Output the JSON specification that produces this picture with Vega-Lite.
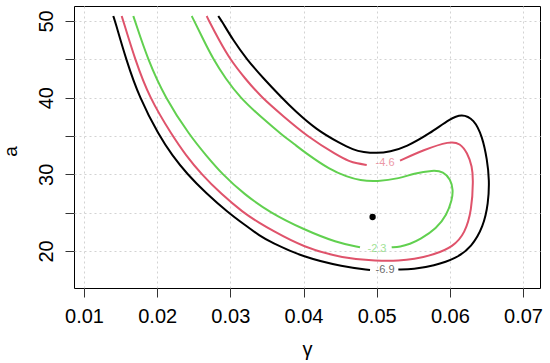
{
  "$schema": "https://vega.github.io/schema/vega-lite/v6.json",
  "width": 466,
  "height": 282,
  "autosize": {"type": "none"},
  "padding": {"left": 74, "top": 6, "right": 10, "bottom": 75},
  "background": "white",
  "config": {"view": {"stroke": "#000", "strokeWidth": 1}, "font": "Liberation Sans"},
  "datasets": {
    "contours": [
      {"lvl": "-6.9", "seg": "k1", "i": 0, "g": 0.01400, "a": 50.65},
      {"lvl": "-6.9", "seg": "k1", "i": 1, "g": 0.01424, "a": 50.00},
      {"lvl": "-6.9", "seg": "k1", "i": 2, "g": 0.01574, "a": 45.00},
      {"lvl": "-6.9", "seg": "k1", "i": 3, "g": 0.01756, "a": 40.00},
      {"lvl": "-6.9", "seg": "k1", "i": 4, "g": 0.02029, "a": 35.00},
      {"lvl": "-6.9", "seg": "k1", "i": 5, "g": 0.02203, "a": 32.52},
      {"lvl": "-6.9", "seg": "k1", "i": 6, "g": 0.02412, "a": 30.00},
      {"lvl": "-6.9", "seg": "k1", "i": 7, "g": 0.02667, "a": 27.56},
      {"lvl": "-6.9", "seg": "k1", "i": 8, "g": 0.02972, "a": 25.00},
      {"lvl": "-6.9", "seg": "k1", "i": 9, "g": 0.03200, "a": 23.39},
      {"lvl": "-6.9", "seg": "k1", "i": 10, "g": 0.03405, "a": 21.96},
      {"lvl": "-6.9", "seg": "k1", "i": 11, "g": 0.03542, "a": 21.21},
      {"lvl": "-6.9", "seg": "k1", "i": 12, "g": 0.03997, "a": 19.18},
      {"lvl": "-6.9", "seg": "k1", "i": 13, "g": 0.04544, "a": 17.95},
      {"lvl": "-6.9", "seg": "k1", "i": 14, "g": 0.04909, "a": 17.52},
      {"lvl": "-6.9", "seg": "k2", "i": 0, "g": 0.05296, "a": 17.59},
      {"lvl": "-6.9", "seg": "k2", "i": 1, "g": 0.05500, "a": 17.61},
      {"lvl": "-6.9", "seg": "k2", "i": 2, "g": 0.05774, "a": 18.04},
      {"lvl": "-6.9", "seg": "k2", "i": 3, "g": 0.06094, "a": 19.04},
      {"lvl": "-6.9", "seg": "k2", "i": 4, "g": 0.06299, "a": 20.56},
      {"lvl": "-6.9", "seg": "k2", "i": 5, "g": 0.06457, "a": 23.17},
      {"lvl": "-6.9", "seg": "k2", "i": 6, "g": 0.06526, "a": 26.22},
      {"lvl": "-6.9", "seg": "k2", "i": 7, "g": 0.06540, "a": 29.26},
      {"lvl": "-6.9", "seg": "k2", "i": 8, "g": 0.06510, "a": 31.87},
      {"lvl": "-6.9", "seg": "k2", "i": 9, "g": 0.06445, "a": 34.91},
      {"lvl": "-6.9", "seg": "k2", "i": 10, "g": 0.06330, "a": 37.20},
      {"lvl": "-6.9", "seg": "k2", "i": 11, "g": 0.06162, "a": 37.90},
      {"lvl": "-6.9", "seg": "k2", "i": 12, "g": 0.06002, "a": 37.25},
      {"lvl": "-6.9", "seg": "k2", "i": 13, "g": 0.05729, "a": 35.35},
      {"lvl": "-6.9", "seg": "k2", "i": 14, "g": 0.05400, "a": 33.55},
      {"lvl": "-6.9", "seg": "k2", "i": 15, "g": 0.05182, "a": 32.95},
      {"lvl": "-6.9", "seg": "k2", "i": 16, "g": 0.05000, "a": 32.74},
      {"lvl": "-6.9", "seg": "k2", "i": 17, "g": 0.04817, "a": 32.90},
      {"lvl": "-6.9", "seg": "k2", "i": 18, "g": 0.04680, "a": 33.20},
      {"lvl": "-6.9", "seg": "k2", "i": 19, "g": 0.04499, "a": 34.05},
      {"lvl": "-6.9", "seg": "k2", "i": 20, "g": 0.04180, "a": 35.78},
      {"lvl": "-6.9", "seg": "k2", "i": 21, "g": 0.03870, "a": 38.39},
      {"lvl": "-6.9", "seg": "k2", "i": 22, "g": 0.03702, "a": 40.00},
      {"lvl": "-6.9", "seg": "k2", "i": 23, "g": 0.03453, "a": 42.50},
      {"lvl": "-6.9", "seg": "k2", "i": 24, "g": 0.03224, "a": 45.00},
      {"lvl": "-6.9", "seg": "k2", "i": 25, "g": 0.03036, "a": 47.52},
      {"lvl": "-6.9", "seg": "k2", "i": 26, "g": 0.02882, "a": 50.00},
      {"lvl": "-6.9", "seg": "k2", "i": 27, "g": 0.02835, "a": 50.65},
      {"lvl": "-4.6", "seg": "r1", "i": 0, "g": 0.01515, "a": 50.65},
      {"lvl": "-4.6", "seg": "r1", "i": 1, "g": 0.01537, "a": 50.00},
      {"lvl": "-4.6", "seg": "r1", "i": 2, "g": 0.01697, "a": 45.00},
      {"lvl": "-4.6", "seg": "r1", "i": 3, "g": 0.01892, "a": 40.00},
      {"lvl": "-4.6", "seg": "r1", "i": 4, "g": 0.02210, "a": 35.00},
      {"lvl": "-4.6", "seg": "r1", "i": 5, "g": 0.02390, "a": 32.52},
      {"lvl": "-4.6", "seg": "r1", "i": 6, "g": 0.02605, "a": 30.00},
      {"lvl": "-4.6", "seg": "r1", "i": 7, "g": 0.02875, "a": 27.43},
      {"lvl": "-4.6", "seg": "r1", "i": 8, "g": 0.03177, "a": 25.00},
      {"lvl": "-4.6", "seg": "r1", "i": 9, "g": 0.03405, "a": 23.61},
      {"lvl": "-4.6", "seg": "r1", "i": 10, "g": 0.03560, "a": 22.75},
      {"lvl": "-4.6", "seg": "r1", "i": 11, "g": 0.03997, "a": 20.48},
      {"lvl": "-4.6", "seg": "r1", "i": 12, "g": 0.04544, "a": 19.05},
      {"lvl": "-4.6", "seg": "r1", "i": 13, "g": 0.05000, "a": 18.70},
      {"lvl": "-4.6", "seg": "r1", "i": 14, "g": 0.05319, "a": 18.73},
      {"lvl": "-4.6", "seg": "r1", "i": 15, "g": 0.05500, "a": 18.92},
      {"lvl": "-4.6", "seg": "r1", "i": 16, "g": 0.05774, "a": 19.48},
      {"lvl": "-4.6", "seg": "r1", "i": 17, "g": 0.06047, "a": 20.56},
      {"lvl": "-4.6", "seg": "r1", "i": 18, "g": 0.06207, "a": 22.31},
      {"lvl": "-4.6", "seg": "r1", "i": 19, "g": 0.06299, "a": 25.35},
      {"lvl": "-4.6", "seg": "r1", "i": 20, "g": 0.06320, "a": 29.26},
      {"lvl": "-4.6", "seg": "r1", "i": 21, "g": 0.06305, "a": 31.00},
      {"lvl": "-4.6", "seg": "r1", "i": 22, "g": 0.06240, "a": 32.80},
      {"lvl": "-4.6", "seg": "r1", "i": 23, "g": 0.06139, "a": 34.05},
      {"lvl": "-4.6", "seg": "r1", "i": 24, "g": 0.06002, "a": 34.35},
      {"lvl": "-4.6", "seg": "r1", "i": 25, "g": 0.05637, "a": 33.17},
      {"lvl": "-4.6", "seg": "r1", "i": 26, "g": 0.05319, "a": 31.78},
      {"lvl": "-4.6", "seg": "r2", "i": 0, "g": 0.04864, "a": 31.22},
      {"lvl": "-4.6", "seg": "r2", "i": 1, "g": 0.04727, "a": 31.44},
      {"lvl": "-4.6", "seg": "r2", "i": 2, "g": 0.04635, "a": 31.65},
      {"lvl": "-4.6", "seg": "r2", "i": 3, "g": 0.04454, "a": 32.52},
      {"lvl": "-4.6", "seg": "r2", "i": 4, "g": 0.04061, "a": 34.87},
      {"lvl": "-4.6", "seg": "r2", "i": 5, "g": 0.03720, "a": 37.61},
      {"lvl": "-4.6", "seg": "r2", "i": 6, "g": 0.03429, "a": 40.00},
      {"lvl": "-4.6", "seg": "r2", "i": 7, "g": 0.03200, "a": 42.50},
      {"lvl": "-4.6", "seg": "r2", "i": 8, "g": 0.02995, "a": 45.00},
      {"lvl": "-4.6", "seg": "r2", "i": 9, "g": 0.02845, "a": 47.52},
      {"lvl": "-4.6", "seg": "r2", "i": 10, "g": 0.02708, "a": 50.00},
      {"lvl": "-4.6", "seg": "r2", "i": 11, "g": 0.02677, "a": 50.65},
      {"lvl": "-2.3", "seg": "g1", "i": 0, "g": 0.01674, "a": 50.65},
      {"lvl": "-2.3", "seg": "g1", "i": 1, "g": 0.01697, "a": 50.00},
      {"lvl": "-2.3", "seg": "g1", "i": 2, "g": 0.01871, "a": 45.00},
      {"lvl": "-2.3", "seg": "g1", "i": 3, "g": 0.02107, "a": 40.00},
      {"lvl": "-2.3", "seg": "g1", "i": 4, "g": 0.02450, "a": 35.00},
      {"lvl": "-2.3", "seg": "g1", "i": 5, "g": 0.02665, "a": 32.52},
      {"lvl": "-2.3", "seg": "g1", "i": 6, "g": 0.02890, "a": 30.00},
      {"lvl": "-2.3", "seg": "g1", "i": 7, "g": 0.03187, "a": 27.43},
      {"lvl": "-2.3", "seg": "g1", "i": 8, "g": 0.03542, "a": 25.00},
      {"lvl": "-2.3", "seg": "g1", "i": 9, "g": 0.03997, "a": 22.83},
      {"lvl": "-2.3", "seg": "g1", "i": 10, "g": 0.04454, "a": 21.08},
      {"lvl": "-2.3", "seg": "g1", "i": 11, "g": 0.04772, "a": 20.48},
      {"lvl": "-2.3", "seg": "g2", "i": 0, "g": 0.05205, "a": 20.48},
      {"lvl": "-2.3", "seg": "g2", "i": 1, "g": 0.05319, "a": 20.55},
      {"lvl": "-2.3", "seg": "g2", "i": 2, "g": 0.05455, "a": 20.91},
      {"lvl": "-2.3", "seg": "g2", "i": 3, "g": 0.05592, "a": 21.50},
      {"lvl": "-2.3", "seg": "g2", "i": 4, "g": 0.05820, "a": 22.96},
      {"lvl": "-2.3", "seg": "g2", "i": 5, "g": 0.05957, "a": 24.70},
      {"lvl": "-2.3", "seg": "g2", "i": 6, "g": 0.06030, "a": 26.65},
      {"lvl": "-2.3", "seg": "g2", "i": 7, "g": 0.06045, "a": 27.96},
      {"lvl": "-2.3", "seg": "g2", "i": 8, "g": 0.06010, "a": 29.35},
      {"lvl": "-2.3", "seg": "g2", "i": 9, "g": 0.05911, "a": 30.35},
      {"lvl": "-2.3", "seg": "g2", "i": 10, "g": 0.05774, "a": 30.55},
      {"lvl": "-2.3", "seg": "g2", "i": 11, "g": 0.05500, "a": 30.10},
      {"lvl": "-2.3", "seg": "g2", "i": 12, "g": 0.05319, "a": 29.47},
      {"lvl": "-2.3", "seg": "g2", "i": 13, "g": 0.05000, "a": 29.04},
      {"lvl": "-2.3", "seg": "g2", "i": 14, "g": 0.04772, "a": 29.20},
      {"lvl": "-2.3", "seg": "g2", "i": 15, "g": 0.04591, "a": 29.69},
      {"lvl": "-2.3", "seg": "g2", "i": 16, "g": 0.04362, "a": 30.60},
      {"lvl": "-2.3", "seg": "g2", "i": 17, "g": 0.04034, "a": 32.74},
      {"lvl": "-2.3", "seg": "g2", "i": 18, "g": 0.03861, "a": 34.05},
      {"lvl": "-2.3", "seg": "g2", "i": 19, "g": 0.03724, "a": 35.00},
      {"lvl": "-2.3", "seg": "g2", "i": 20, "g": 0.03433, "a": 37.35},
      {"lvl": "-2.3", "seg": "g2", "i": 21, "g": 0.03132, "a": 40.00},
      {"lvl": "-2.3", "seg": "g2", "i": 22, "g": 0.02934, "a": 42.50},
      {"lvl": "-2.3", "seg": "g2", "i": 23, "g": 0.02767, "a": 45.00},
      {"lvl": "-2.3", "seg": "g2", "i": 24, "g": 0.02633, "a": 47.52},
      {"lvl": "-2.3", "seg": "g2", "i": 25, "g": 0.02507, "a": 50.00},
      {"lvl": "-2.3", "seg": "g2", "i": 26, "g": 0.02472, "a": 50.65}
    ],
    "labels": [
      {"lvl": "-6.9", "g": 0.05114, "a": 17.46},
      {"lvl": "-4.6", "g": 0.05114, "a": 31.48},
      {"lvl": "-2.3", "g": 0.05004, "a": 20.29}
    ],
    "estimate": [
      {"g": 0.04944, "a": 24.43}
    ]
  },
  "layer": [
    {
      "data": {"name": "contours"},
      "mark": {"type": "line", "strokeWidth": 2, "interpolate": "basis"},
      "encoding": {
        "x": {
          "field": "g", "type": "quantitative",
          "scale": {"domain": [0.008633, 0.07232], "nice": false, "zero": false},
          "axis": {
            "title": "γ",
            "values": [0.01, 0.02, 0.03, 0.04, 0.05, 0.06, 0.07],
            "format": ".2f",
            "grid": true, "gridColor": "#d3d3d3", "gridDash": [2, 3], "gridWidth": 1,
            "domain": false,
            "tickSize": 9, "tickColor": "#333", "tickWidth": 1,
            "labelFontSize": 20, "labelColor": "#000", "labelFont": "Liberation Sans",
            "labelBaseline": "alphabetic", "labelPadding": 25,
            "labelFlush": false, "labelOverlap": false,
            "titleFont": "Liberation Sans", "titleFontSize": 20, "titleFontWeight": "normal",
            "titleColor": "#000", "titleX": 233, "titleY": 67,
            "titleBaseline": "alphabetic", "titleAlign": "center"
          }
        },
        "y": {
          "field": "a", "type": "quantitative",
          "scale": {"domain": [15.174, 51.955], "nice": false, "zero": false},
          "axis": {
            "title": "a",
            "values": [20, 25, 30, 35, 40, 45, 50],
            "labelExpr": "datum.value % 10 === 0 ? datum.label : ''",
            "grid": true, "gridColor": "#d3d3d3", "gridDash": [2, 3], "gridWidth": 1,
            "domain": false,
            "tickSize": 9, "tickColor": "#333", "tickWidth": 1,
            "labelFontSize": 20, "labelColor": "#000", "labelFont": "Liberation Sans",
            "labelAngle": -90, "labelAlign": "center", "labelBaseline": "alphabetic",
            "labelPadding": 13, "labelFlush": false, "labelOverlap": false,
            "titleFont": "Liberation Sans", "titleFontSize": 19, "titleFontWeight": "normal",
            "titleColor": "#000", "titleAngle": -90, "titleX": -58, "titleY": 145,
            "titleBaseline": "alphabetic", "titleAlign": "center"
          }
        },
        "color": {
          "field": "lvl", "type": "nominal",
          "scale": {"domain": ["-2.3", "-4.6", "-6.9"], "range": ["#61D04F", "#DF536B", "#000000"]},
          "legend": null
        },
        "detail": {"field": "seg", "type": "nominal"},
        "order": {"field": "i", "type": "quantitative"}
      }
    },
    {
      "data": {"name": "labels"},
      "mark": {"type": "text", "fontSize": 11, "font": "Liberation Sans", "align": "center", "baseline": "middle", "opacity": 0.6},
      "encoding": {
        "x": {"field": "g", "type": "quantitative"},
        "y": {"field": "a", "type": "quantitative"},
        "text": {"field": "lvl", "type": "nominal"},
        "color": {"field": "lvl", "type": "nominal", "legend": null}
      }
    },
    {
      "data": {"name": "estimate"},
      "mark": {"type": "point", "filled": true, "shape": "circle", "size": 40, "color": "#000", "opacity": 1},
      "encoding": {
        "x": {"field": "g", "type": "quantitative"},
        "y": {"field": "a", "type": "quantitative"}
      }
    }
  ]
}
